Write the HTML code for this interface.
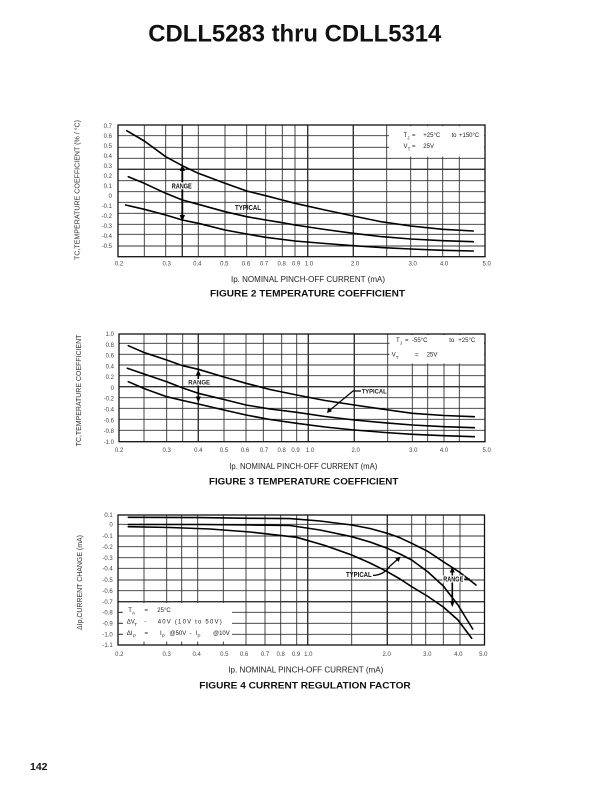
<!DOCTYPE html>
<html><head><meta charset="utf-8"><style>
html,body{margin:0;padding:0;background:#fff;}
svg{display:block;}
text{font-family:"Liberation Sans",Arial,sans-serif;}
.t{font-size:6px;fill:#444;}
.lg{font-size:6px;fill:#222;}
.b{font-weight:bold;}
</style></head><body>
<svg width="612" height="792" viewBox="0 0 612 792" xmlns="http://www.w3.org/2000/svg">
<rect width="612" height="792" fill="#fff"/>
<text x="148.3" y="41.7" font-size="24" font-weight="bold" textLength="293" lengthAdjust="spacingAndGlyphs" fill="#111">CDLL5283 thru CDLL5314</text>

<!-- ============ FIGURE 2 ============ -->
<g stroke="#333" stroke-width="0.9" fill="none">
<path d="M118 135.7H485M118 147.3H485M118 158.3H485M118 169.3H485M118 180.7H485M118 191.7H485M118 202.3H485M118 213.3H485M118 224.3H485M118 234.3H485M118 246H485"/>
<path d="M144.3 125V256.7M165.7 125V256.7M198.3 125V256.7M225 125V256.7M246.7 125V256.7M265.7 125V256.7M282.3 125V256.7M295 125V256.7M386.7 125V256.7M410.7 125V256.7M427.7 125V256.7M442.7 125V256.7M459.3 125V256.7"/>
<path stroke-width="1.4" d="M182.3 125V256.7M307.7 125V256.7M353.3 125V256.7M118 169.3H485"/>
</g>
<rect x="389" y="126.2" width="95" height="30.5" fill="#fff"/>
<rect x="118" y="125" width="367" height="131.7" fill="none" stroke="#111" stroke-width="1.3"/>
<g fill="none" stroke="#000" stroke-width="1.6" stroke-linejoin="round" stroke-linecap="round">
<polyline points="126.7,130.7 144.3,141 165.7,156.7 182.3,165.7 198.3,173.3 225,183.3 246.7,191 265.7,195.7 282.3,200 295,203.3 325,210 353.3,216 380,221.5 410.7,226 442.7,229.3 473.3,231"/>
<polyline points="128.3,176.7 144.3,183.3 165.7,193.3 182.3,200 198.3,204.3 225,211.7 246.7,216.7 265.7,220 282.3,222.7 295,225 325,229.5 353.3,233.3 380,236.5 410.7,239 442.7,240.7 473.3,241.7"/>
<polyline points="125.7,205 144.3,209.3 165.7,215 182.3,220 198.3,223.3 225,230 246.7,234 265.7,237.3 295,241 325,243.5 353.3,245.7 380,247.5 410.7,249 442.7,250.3 473.3,251"/>
</g>
<g stroke="#000" stroke-width="1.8"><path d="M182.3 169V217"/></g>
<path d="M182.3 164.5L179.6 171H185Z M182.3 221.5L179.6 215H185Z" fill="#000"/>
<rect x="170.5" y="182.3" width="22.5" height="7" fill="#fff"/>
<text x="171.7" y="188.6" font-size="7" class="b" textLength="20" lengthAdjust="spacingAndGlyphs" fill="#111">RANGE</text>
<text x="235" y="209.8" font-size="7" class="b" textLength="26" lengthAdjust="spacingAndGlyphs" fill="#111">TYPICAL</text>
<g class="lg">
<text x="403.5" y="137.2">T</text><text x="407.3" y="139.5" font-size="4.5">J</text>
<text x="412" y="137.2">=</text>
<text x="423.3" y="137.2">+25°C</text>
<text x="451.5" y="137.2">to</text>
<text x="459" y="137.2">+150°C</text>
<text x="403.5" y="148">V</text><text x="407.6" y="150.3" font-size="4.5">T</text>
<text x="412" y="148">=</text>
<text x="423.3" y="148">25V</text>
</g>
<g class="t" text-anchor="end">
<text x="112" y="127.8">0.7</text><text x="112" y="137.8">0.6</text><text x="112" y="147.8">0.5</text><text x="112" y="157.8">0.4</text><text x="112" y="167.8">0.3</text><text x="112" y="177.8">0.2</text><text x="112" y="187.8">0.1</text><text x="112" y="197.8">0</text><text x="112" y="207.8">-0.1</text><text x="112" y="217.8">-0.2</text><text x="112" y="227.8">-0.3</text><text x="112" y="237.8">-0.4</text><text x="112" y="247.8">-0.5</text>
</g>
<g class="t" text-anchor="middle">
<text x="119" y="265.5">0.2</text><text x="166.7" y="265.5">0.3</text><text x="197.3" y="265.5">0.4</text><text x="224.3" y="265.5">0.5</text><text x="246" y="265.5">0.6</text><text x="264" y="265.5">0.7</text><text x="281.7" y="265.5">0.8</text><text x="296" y="265.5">0.9</text><text x="309" y="265.5">1.0</text><text x="355" y="265.5">2.0</text><text x="412.7" y="265.5">3.0</text><text x="444" y="265.5">4.0</text><text x="486.7" y="265.5">5.0</text>
</g>
<text x="231" y="282.2" font-size="8" fill="#222" textLength="154" lengthAdjust="spacingAndGlyphs">Ip. NOMINAL PINCH-OFF CURRENT (mA)</text>
<text x="210" y="296.7" font-size="9.5" class="b" fill="#111" textLength="195" lengthAdjust="spacingAndGlyphs">FIGURE 2 TEMPERATURE COEFFICIENT</text>
<text transform="translate(78,190) rotate(-90)" text-anchor="middle" dominant-baseline="central" font-size="7" fill="#333" textLength="140" lengthAdjust="spacingAndGlyphs">TC,TEMPERATURE COEFFICIENT (% / °C)</text>

<!-- ============ FIGURE 3 ============ -->
<g stroke="#333" stroke-width="0.9" fill="none">
<path d="M119 343.3H485M119 354.3H485M119 365H485M119 375.7H485M119 386.7H485M119 397.7H485M119 408.3H485M119 419.3H485M119 430.3H485"/>
<path d="M144 334V441.7M166.7 334V441.7M182.7 334V441.7M224 334V441.7M246 334V441.7M263.3 334V441.7M281.7 334V441.7M296.7 334V441.7M387.7 334V441.7M412.3 334V441.7M427.7 334V441.7M444 334V441.7M459.3 334V441.7"/>
<path stroke-width="1.4" d="M198.3 334V441.7M308.3 334V441.7M354.3 334V441.7M119 386.7H485"/>
</g>
<rect x="389.5" y="335" width="94.5" height="28.5" fill="#fff"/>
<rect x="119" y="334" width="366" height="107.7" fill="none" stroke="#111" stroke-width="1.3"/>
<g fill="none" stroke="#000" stroke-width="1.6" stroke-linejoin="round" stroke-linecap="round">
<polyline points="128.3,345.7 144,352.5 166.7,360 182.7,365.7 198.3,369.3 224,377 246,383.3 270,389.5 296.7,395 325,400.5 354.3,405 385,409.5 412.3,413.3 444,415.5 474.3,416.7"/>
<polyline points="127.3,368.3 144,374 166.7,381.7 182.7,388 198.3,393.3 224,399.5 246,405 270,409 296.7,412.3 325,416.5 354.3,420 385,422.8 412.3,425 444,426.7 474.3,427.7"/>
<polyline points="128.3,381.7 144,388.5 166.7,396.7 182.7,400.5 198.3,404 224,410 246,415 270,419.5 296.7,423.3 325,427 354.3,430 385,432.5 412.3,434.3 444,435.7 474.3,436.7"/>
</g>
<g stroke="#000" stroke-width="1.6"><path d="M198.3 374V398"/></g>
<path d="M198.3 369.5L195.8 375.5H200.8Z M198.3 402.5L195.8 396.5H200.8Z" fill="#000"/>
<rect x="187.5" y="379" width="23" height="6.5" fill="#fff"/>
<text x="188.3" y="384.6" font-size="6" class="b" textLength="21.7" lengthAdjust="spacingAndGlyphs" fill="#222">RANGE</text>
<path d="M361 391H353L329.5 410.5" fill="none" stroke="#000" stroke-width="1.2"/>
<path d="M327 413L328.2 407.5L332 411.2Z" fill="#000"/>
<text x="361.7" y="393.3" font-size="6" class="b" textLength="25" lengthAdjust="spacingAndGlyphs" fill="#222">TYPICAL</text>
<g class="lg">
<text x="396" y="342.2">T</text><text x="400" y="344.5" font-size="4.5">J</text>
<text x="405" y="342.2">=</text>
<text x="412" y="342.2">-55°C</text>
<text x="449.3" y="342.2">to</text>
<text x="458.3" y="342.2">+25°C</text>
<text x="391.7" y="356.5">V</text><text x="395.8" y="358.8" font-size="4.5">T</text>
<text x="415" y="356.5">=</text>
<text x="426.7" y="356.5">25V</text>
</g>
<g class="t" text-anchor="end">
<text x="114" y="336.1">1.0</text><text x="114" y="346.9">0.8</text><text x="114" y="357.6">0.6</text><text x="114" y="368.4">0.4</text><text x="114" y="379.2">0.2</text><text x="114" y="390">0</text><text x="114" y="400.7">-0.2</text><text x="114" y="411.5">-0.4</text><text x="114" y="422.3">-0.6</text><text x="114" y="433">-0.8</text><text x="114" y="443.8">-1.0</text>
</g>
<g class="t" text-anchor="middle">
<text x="119" y="452.2">0.2</text><text x="166.7" y="452.2">0.3</text><text x="198.3" y="452.2">0.4</text><text x="224" y="452.2">0.5</text><text x="245" y="452.2">0.6</text><text x="264" y="452.2">0.7</text><text x="281.7" y="452.2">0.8</text><text x="295.5" y="452.2">0.9</text><text x="310" y="452.2">1.0</text><text x="355.7" y="452.2">2.0</text><text x="413.3" y="452.2">3.0</text><text x="444" y="452.2">4.0</text><text x="486.7" y="452.2">5.0</text>
</g>
<text x="229.3" y="468.9" font-size="8" fill="#222" textLength="148" lengthAdjust="spacingAndGlyphs">Ip. NOMINAL PINCH-OFF CURRENT (mA)</text>
<text x="209" y="484.4" font-size="9.5" class="b" fill="#111" textLength="189.3" lengthAdjust="spacingAndGlyphs">FIGURE 3 TEMPERATURE COEFFICIENT</text>
<text transform="translate(79.3,390.5) rotate(-90)" text-anchor="middle" dominant-baseline="central" font-size="7" fill="#333" textLength="111.7" lengthAdjust="spacingAndGlyphs">TC,TEMPERATURE COEFFICIENT</text>

<!-- ============ FIGURE 4 ============ -->
<g stroke="#333" stroke-width="0.9" fill="none">
<path d="M118 524.3H484.5M118 536H484.5M118 546.7H484.5M118 557.7H484.5M118 568.3H484.5M118 580H484.5M118 590.7H484.5M118 601.7H484.5M118 612.3H484.5M118 623.3H484.5M118 634.3H484.5"/>
<path d="M144 515V645M166.7 515V645M181.7 515V645M197.7 515V645M223.3 515V645M246 515V645M265 515V645M280.7 515V645M296.7 515V645M351.7 515V645M411.7 515V645M425.7 515V645M443.3 515V645M460 515V645"/>
<path stroke-width="1.4" d="M307.7 515V645M387.3 515V645M118 601.7H484.5"/>
</g>
<rect x="123" y="603" width="109" height="38.5" fill="#fff"/>
<rect x="118" y="515" width="366.5" height="130" fill="none" stroke="#111" stroke-width="1.3"/>
<g fill="none" stroke="#000" stroke-width="1.6" stroke-linejoin="round" stroke-linecap="round">
<polyline points="128.3,517.3 200,517.6 250,518.3 290,518.6 320,521 351.7,525 370,528.5 387.3,533.3 400,537.8 411.7,543.3 428,551.5 443.3,561.7 460,572.5 476,585"/>
<polyline points="128.3,524.5 200,524.5 250,525 290,525.5 320,530 351.7,536.7 370,542 387.3,548.3 400,554 411.7,560 428,572 443.3,586 458,605 472.7,629"/>
<polyline points="128.3,526.7 170,527.5 210,529 250,532 296.7,537.3 325,545.5 351.7,555 370,563 387.3,571.7 400,579 411.7,586.7 428,596.5 443.3,607 458,620 471.7,638.3"/>
</g>
<g stroke="#000" stroke-width="1.6"><path d="M452.3 571V603"/></g>
<path d="M452.3 566.5L449.8 572.5H454.8Z M452.3 607L449.8 601H454.8Z" fill="#000"/>
<rect x="442.5" y="575.5" width="22" height="7" fill="#fff"/>
<text x="443.3" y="581.6" font-size="7" class="b" textLength="20" lengthAdjust="spacingAndGlyphs" fill="#111">RANGE</text>
<path d="M464 579H470" stroke="#000" stroke-width="1"/>
<path d="M373 575.5Q384 575 390 566L398 559" fill="none" stroke="#000" stroke-width="1.3"/>
<path d="M400.5 556.5L395.2 558.5L398.8 562Z" fill="#000"/>
<text x="346" y="577" font-size="7" class="b" textLength="25.7" lengthAdjust="spacingAndGlyphs" fill="#111">TYPICAL</text>
<path d="M118 612.3H122M118 623.3H122M118 634.3H122" stroke="#333" stroke-width="0.9"/>
<g class="lg" font-size="6.3">
<text x="128.3" y="612">T</text><text x="132" y="614.3" font-size="4.5">A</text>
<text x="144.5" y="612">=</text>
<text x="157.3" y="612">25°C</text>
<text x="126.8" y="623.5">ΔV</text><text x="134.2" y="625.8" font-size="4.5">T</text>
<text x="144.5" y="623.5">-</text>
<text x="157.7" y="623.5" textLength="64" lengthAdjust="spacing">40V (10V to 50V)</text>
<text x="126.8" y="635">ΔI</text><text x="133" y="637.3" font-size="4.5">P</text>
<text x="144.5" y="635">=</text>
<text x="160" y="635">I</text><text x="162" y="637.3" font-size="4.5">P</text>
<text x="169.5" y="635">@50V</text>
<text x="189.5" y="635">-</text>
<text x="195.5" y="635">I</text><text x="197.5" y="637.3" font-size="4.5">P</text>
<text x="213" y="635">@10V</text>
</g>
<g class="t" text-anchor="end">
<text x="112.7" y="517.1">0.1</text><text x="112.7" y="526.4">0</text><text x="112.7" y="538.1">-0.1</text><text x="112.7" y="548.8">-0.2</text><text x="112.7" y="559.8">-0.3</text><text x="112.7" y="570.4">-0.4</text><text x="112.7" y="582.1">-0.5</text><text x="112.7" y="592.8">-0.6</text><text x="112.7" y="603.8">-0.7</text><text x="112.7" y="614.4">-0.8</text><text x="112.7" y="625.4">-0.9</text><text x="112.7" y="636.4">-1.0</text><text x="112.7" y="647.1">-1.1</text>
</g>
<g class="t" text-anchor="middle">
<text x="119.3" y="656.2">0.2</text><text x="166.7" y="656.2">0.3</text><text x="196.7" y="656.2">0.4</text><text x="224.3" y="656.2">0.5</text><text x="244" y="656.2">0.6</text><text x="265" y="656.2">0.7</text><text x="280.7" y="656.2">0.8</text><text x="296" y="656.2">0.9</text><text x="308.3" y="656.2">1.0</text><text x="386.7" y="656.2">2.0</text><text x="427.3" y="656.2">3.0</text><text x="458.3" y="656.2">4.0</text><text x="483.3" y="656.2">5.0</text>
</g>
<text x="228.3" y="672.6" font-size="8" fill="#222" textLength="155" lengthAdjust="spacingAndGlyphs">Ip. NOMINAL PINCH-OFF CURRENT (mA)</text>
<text x="199.3" y="688.4" font-size="9.5" class="b" fill="#111" textLength="211.4" lengthAdjust="spacingAndGlyphs">FIGURE 4 CURRENT REGULATION FACTOR</text>
<text transform="translate(80.7,582.5) rotate(-90)" text-anchor="middle" dominant-baseline="central" font-size="7" fill="#333" textLength="95" lengthAdjust="spacingAndGlyphs">ΔIp,CURRENT CHANGE (mA)</text>

<text x="30" y="770" font-size="10.5" font-weight="bold" fill="#111">142</text>
</svg>
</body></html>
